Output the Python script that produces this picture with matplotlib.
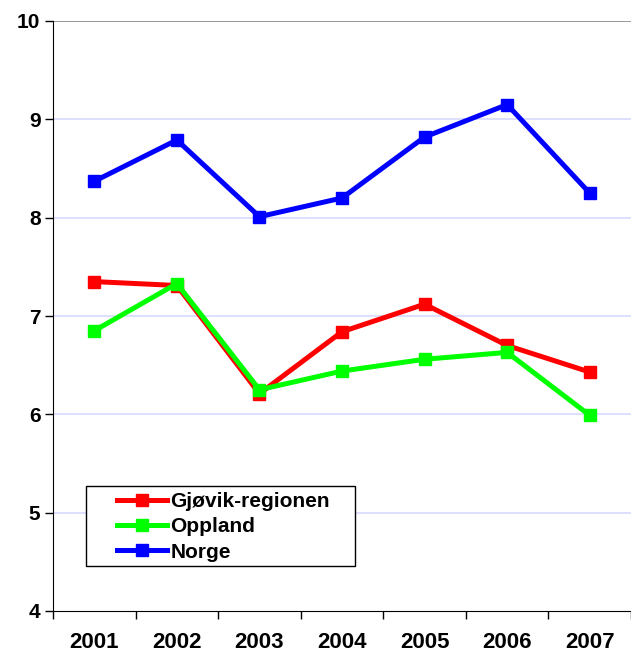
import matplotlib
matplotlib.use('Agg')
from matplotlib import pyplot as plt
from matplotlib.patches import Rectangle

plt.rcParams['font.family'] = ['Liberation Sans', 'DejaVu Sans']
plt.rcParams['font.weight'] = 'bold'

years = ['2001', '2002', '2003', '2004', '2005', '2006', '2007']
gjovik = [7.35, 7.31, 6.21, 6.84, 7.12, 6.70, 6.43]
oppland = [6.85, 7.33, 6.25, 6.44, 6.56, 6.63, 5.99]
norge = [8.37, 8.79, 8.01, 8.20, 8.82, 9.15, 8.25]

fig = plt.figure(figsize=(6.31, 6.53), dpi=100)
ax = fig.add_axes([53/631, 42/653, 1 - 53/631, 590/653])

x = range(len(years))
ax.plot(x, gjovik, '-s', color='#ff0000', lw=3.6, ms=9, label='Gjøvik-regionen')
ax.plot(x, oppland, '-s', color='#00ff00', lw=3.6, ms=9, label='Oppland')
ax.plot(x, norge, '-s', color='#0000ff', lw=3.6, ms=9, label='Norge')

ax.set_ylim(4, 10)
ax.set_xlim(-0.5, 6.38)
ax.set_yticks([4, 5, 6, 7, 8, 9, 10])
for v in [5, 6, 7, 8, 9]:
    ax.axhline(v, color='#d8d8ff', lw=1.2, zorder=0)
ax.axhline(10, color='#888888', lw=1.2, zorder=0)

ax.set_xticks([i - 0.5 for i in range(8)])
ax.set_xticklabels([])
ax.set_xticks(list(x), minor=True)
ax.set_xticklabels(years, minor=True, fontsize=16, fontweight='bold')
ax.tick_params(axis='x', which='minor', length=0, pad=15)
ax.tick_params(axis='x', which='major', direction='out', length=6, width=1)
ax.tick_params(axis='y', direction='out', length=6, width=1, labelsize=15, pad=3)

ax.spines['top'].set_visible(False)
ax.spines['right'].set_visible(False)

# legend box drawn separately (wide side padding, tight rows)
fig.patches.append(Rectangle((86/631, 1 - 566/653), 269/631, 80/653,
                             transform=fig.transFigure, fill=True,
                             facecolor='white', edgecolor='black', lw=1, zorder=5))
leg = fig.legend(loc='upper left', bbox_to_anchor=(117/631, 1 - 492/653),
                 frameon=False, handlelength=2.4, borderpad=0, borderaxespad=0,
                 labelspacing=0.3, handletextpad=0.15,
                 prop={'weight': 'bold', 'size': 15})
leg.set_zorder(6)

fig.savefig('out.png', dpi=100)
